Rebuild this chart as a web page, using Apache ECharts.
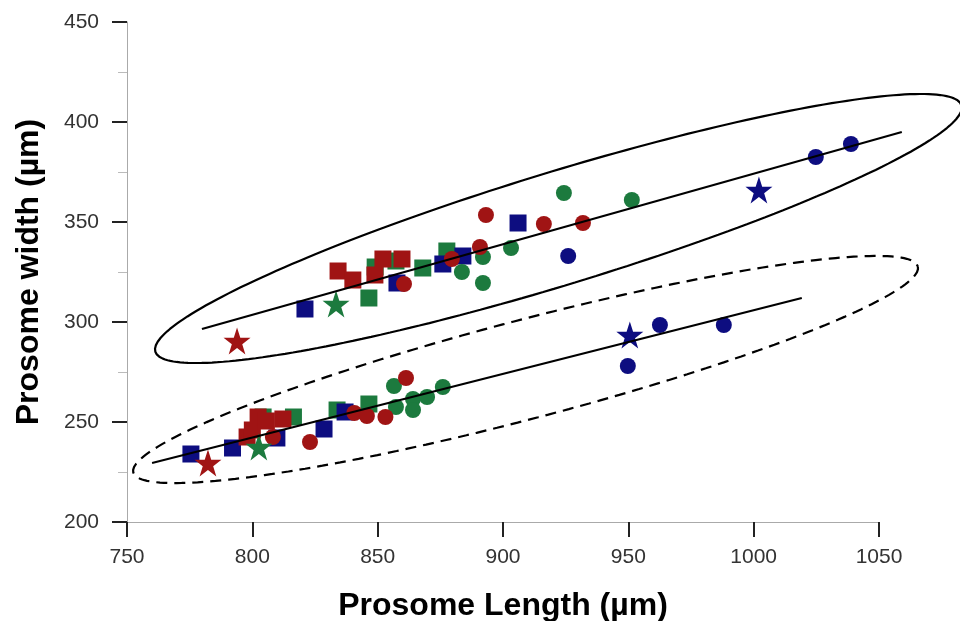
<!DOCTYPE html>
<html>
<head>
<meta charset="utf-8">
<script src="https://cdn.jsdelivr.net/npm/echarts@6/dist/echarts.min.js"></script>
<style>
html,body{margin:0;padding:0;background:#fff;}
#chart{width:960px;height:621px;}
</style>
</head>
<body>
<div id="chart"></div>
<script>
// ---- data ----
var xTicks = [750, 800, 850, 900, 950, 1000, 1050];
var yTicks = [200, 250, 300, 350, 400, 450];

var redSquares = [[834.2,325.5],[840.1,321],[848.9,323.5],[852.1,331.5],[859.7,331.5],
  [797.9,242.5],[800,246],[802.3,252.5],[805.6,250.5],[812.2,251.5]];
var greenSquares = [[846.5,312],[849,327.5],[857.3,330.5],[868,327],[877.6,335.5],
  [804.3,252.5],[816.4,252.5],[833.8,256],[846.5,259]];
var navySquares = [[821,306.5],[857.7,319.5],[876,329],[884,333],[906,349.5],
  [775.5,234],[792.1,237],[809.8,242],[828.6,246.5],[837,255]];
var redCircles = [[860.5,319],[879.6,331.5],[890.8,337.5],[893.2,353.5],[916.3,349],[931.9,349.5],
  [808.2,242.5],[823,240],[840.7,254.5],[845.7,253],[853.1,252.5],[861.3,272]];
var greenCircles = [[883.6,325],[892,332.5],[892,319.5],[903.2,337],[924.3,364.5],[951.4,361],
  [856.5,268],[857.3,257.5],[864.1,261.5],[864.1,256],[869.7,262.5],[876,267.5]];
var navyCircles = [[926,333],[1024.8,382.5],[1038.8,389],
  [949.8,278],[962.6,298.5],[988.1,298.5]];
var redStars = [[793.9,290.5],[782.3,229.5]];
var greenStars = [[833.4,309],[802.6,237.5]];
var navyStars = [[1002.1,366],[950.6,293.5]];

// regression lines (end points)
var upperFit = [[779.9,296.5],[1059.1,395]];
var lowerFit = [[760,229.5],[1019.2,312]];

// confidence ellipses: centre and conjugate semi-axis vectors (data units)
var upperEllipseCenter = [922.1, 346.75];
var upperEllipseMajor = [160.8, 61.6];
var upperEllipseMinor = [6.6, -27.0];
var lowerEllipseCenter = [909.0, 276.25];
var lowerEllipseMajor = [156.5, 51.5];
var lowerEllipseMinor = [5.0, -23.9];

// overlay axis range (same scale, extends past the visible axis so the ellipses are not cut)
var overlayXRange = [750, 1100];

function ellipse(c, u, v) {
  var pts = [];
  var n = 240;
  for (var i = 0; i <= n; i++) {
    var t = 2 * Math.PI * i / n;
    pts.push([c[0] + u[0] * Math.cos(t) + v[0] * Math.sin(t),
              c[1] + u[1] * Math.cos(t) + v[1] * Math.sin(t)]);
  }
  return pts;
}

var RED = '#a01414', GREEN = '#1c7a3e', NAVY = '#0d0d80';
var STAR = 'path://M50,0 L61.8,35.3 L98.9,35.3 L68.9,57.1 L80.3,92.7 L50,70.6 L19.7,92.7 L31.1,57.1 L1.1,35.3 L38.2,35.3 Z';

function pts(name, data, color, symbol, size, z) {
  return {
    name: name, type: 'scatter', data: data, symbol: symbol, symbolSize: size,
    itemStyle: { color: color, opacity: 1 }, z: z, clip: false
  };
}
function line(name, data, dashed) {
  return {
    name: name, type: 'line', data: data, showSymbol: false, symbol: 'none', clip: false,
    xAxisIndex: 1, yAxisIndex: 1,
    lineStyle: { color: '#000', width: 2.2, type: dashed ? [11, 7] : 'solid' },
    z: 10, silent: true
  };
}

var LEFT = 127, RIGHT = 81, TOP = 22, BOTTOM = 99;
var plotW = 960 - LEFT - RIGHT;
var pxPerUnit = plotW / (xTicks[xTicks.length - 1] - xTicks[0]);
var overlayRight = RIGHT - (overlayXRange[1] - xTicks[xTicks.length - 1]) * pxPerUnit;

var FONT = 'Liberation Sans, Arial, sans-serif';
var chart = echarts.init(document.getElementById('chart'), null, { renderer: 'canvas' });
chart.setOption({
  animation: false,
  backgroundColor: '#fff',
  grid: [
    { left: LEFT, right: RIGHT, top: TOP, bottom: BOTTOM, containLabel: false, outerBoundsMode: 'none' },
    { left: LEFT, right: overlayRight, top: TOP, bottom: BOTTOM, containLabel: false, outerBoundsMode: 'none' }
  ],
  xAxis: [{
    type: 'value', gridIndex: 0, min: xTicks[0], max: xTicks[xTicks.length - 1], interval: 50,
    name: 'Prosome Length (µm)', nameLocation: 'middle', nameGap: 68,
    nameTextStyle: { fontFamily: FONT, fontWeight: 'bold', fontSize: 32, color: '#000' },
    axisLine: { show: true, onZero: false, lineStyle: { color: '#aaa', width: 1 } },
    axisTick: { show: true, inside: false, length: 15, lineStyle: { color: '#222', width: 2 } },
    axisLabel: { margin: 25, fontFamily: FONT, fontSize: 21, color: '#333',
      formatter: function (v) { return String(v); } },
    splitLine: { show: false }
  }, {
    type: 'value', gridIndex: 1, min: overlayXRange[0], max: overlayXRange[1], show: false
  }],
  yAxis: [{
    type: 'value', gridIndex: 0, min: yTicks[0], max: yTicks[yTicks.length - 1], interval: 50,
    name: 'Prosome width (µm)', nameLocation: 'middle', nameGap: 82,
    nameTextStyle: { fontFamily: FONT, fontWeight: 'bold', fontSize: 32, color: '#000' },
    axisLine: { show: true, onZero: false, lineStyle: { color: '#aaa', width: 1 } },
    axisTick: { show: true, inside: false, length: 15, lineStyle: { color: '#222', width: 2 } },
    minorTick: { show: true, splitNumber: 2, length: 9, lineStyle: { color: '#bbb', width: 1 } },
    axisLabel: { margin: 28, fontFamily: FONT, fontSize: 21, color: '#333' },
    splitLine: { show: false }
  }, {
    type: 'value', gridIndex: 1, min: yTicks[0], max: yTicks[yTicks.length - 1], show: false
  }],
  series: [
    pts('greenSquares', greenSquares, GREEN, 'rect', 17, 2),
    pts('navySquares', navySquares, NAVY, 'rect', 17, 2),
    pts('redSquares', redSquares, RED, 'rect', 17, 2),
    pts('greenCircles', greenCircles, GREEN, 'circle', 16, 3),
    pts('navyCircles', navyCircles, NAVY, 'circle', 16, 3),
    pts('redCircles', redCircles, RED, 'circle', 16, 3),
    pts('redStars', redStars, RED, STAR, 27, 4),
    pts('greenStars', greenStars, GREEN, STAR, 27, 4),
    pts('navyStars', navyStars, NAVY, STAR, 27, 4),
    line('upperFit', upperFit, false),
    line('lowerFit', lowerFit, false),
    line('upperEllipse', ellipse(upperEllipseCenter, upperEllipseMajor, upperEllipseMinor), false),
    line('lowerEllipse', ellipse(lowerEllipseCenter, lowerEllipseMajor, lowerEllipseMinor), true)
  ]
});
</script>
</body>
</html>
